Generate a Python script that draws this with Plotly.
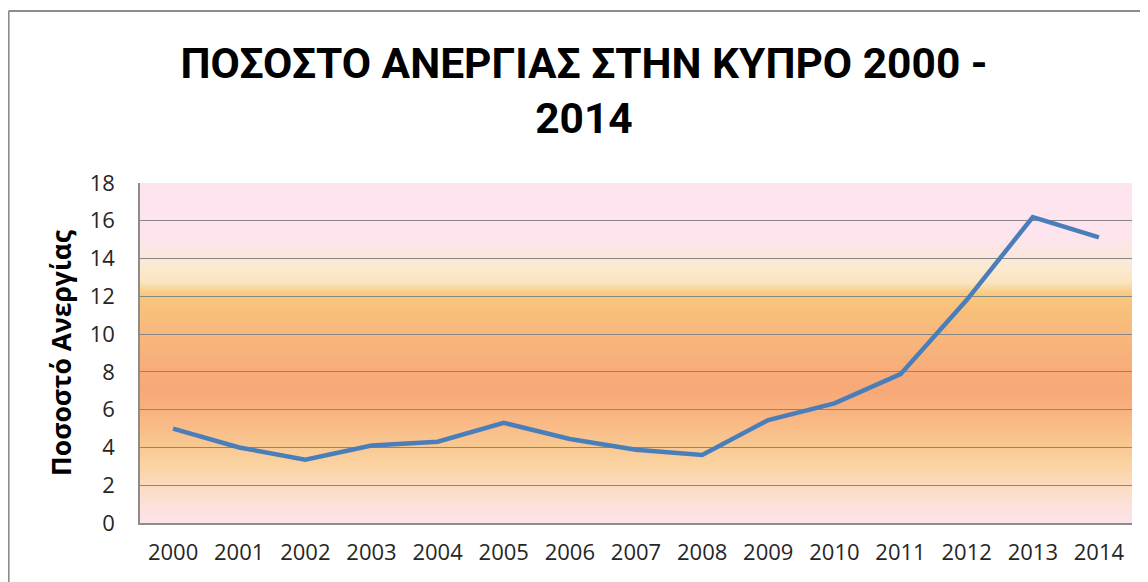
import numpy as np
import plotly.graph_objects as go

years = [str(y) for y in range(2000, 2015)]
unemployment = [5.0, 4.0, 3.35, 4.1, 4.3, 5.3, 4.45, 3.88, 3.6, 5.45, 6.33, 7.88, 11.8, 16.2, 15.12]
y_ticks = list(range(0, 19, 2))
title_text = "ΠΟΣΟΣΤΟ ΑΝΕΡΓΙΑΣ ΣΤΗΝ ΚΥΠΡΟ 2000 -<br>2014"
y_title = "Ποσοστό Ανεργίας"

# page body has an 8px offset; figure coordinates compensate for it
OFF = 8
W, H = 1148, 582
L, T = 140 - OFF, 183 - OFF
R = W - (1132 - OFF)
B = H - (523 - OFF)
pw, ph = W - L - R, H - T - B

# background gradient (style)
stops = [
    (0.0, "#FDE3EA"), (1.0, "#FCE0D8"), (2.0, "#FBDBBF"), (3.0, "#FAD3A3"),
    (4.0, "#F9CA93"), (5.0, "#F9BD88"), (6.0, "#F8B27F"), (7.0, "#F8A878"),
    (8.0, "#F8AC79"), (9.0, "#F8B27B"), (10.0, "#F8B77C"), (11.0, "#F8BE7B"),
    (12.0, "#F8C67A"), (12.3, "#F9D08F"), (12.7, "#FAE3BE"), (13.5, "#FBE9D0"),
    (14.5, "#FCE6E2"), (15.2, "#FDE4EE"), (18.0, "#FDE4EF"),
]
sv = np.array([s[0] for s in stops])
sc = np.array([[int(c[1:3], 16), int(c[3:5], 16), int(c[5:7], 16)] for _, c in stops])

shapes = []
step = 0.1
for lo in np.arange(0, 18, step):
    mid = lo + step / 2
    rgb = [int(round(np.interp(mid, sv, sc[:, k]))) for k in range(3)]
    shapes.append(dict(type="rect", xref="paper", yref="y", x0=0, x1=1,
                       y0=lo, y1=min(lo + step * 1.5, 18), layer="below",
                       line=dict(width=0), fillcolor="rgb(%d,%d,%d)" % tuple(rgb)))

# outer chart border (top and left visible)
bx = (8.5 - OFF - L) / pw
by = (H - B - (11 - OFF)) / ph
shapes.append(dict(type="line", xref="paper", yref="paper", x0=bx, x1=(W + 10 - L) / pw,
                   y0=by, y1=by, line=dict(color="#8C8C8C", width=2.2)))
shapes.append(dict(type="line", xref="paper", yref="paper", x0=bx, x1=bx,
                   y0=by, y1=-B / ph - 0.1, line=dict(color="#8C8C8C", width=2.2)))

fig = go.Figure()
fig.add_trace(go.Scatter(
    x=years, y=unemployment, mode="lines",
    line=dict(color="#4A7EBB", width=4.5),
    showlegend=False, hoverinfo="x+y",
))

fig.update_layout(
    width=W, height=H,
    margin=dict(l=L, r=R, t=T, b=B, autoexpand=False),
    paper_bgcolor="white", plot_bgcolor="white",
    shapes=shapes,
    title=dict(
        text=title_text,
        xref="container", yref="container",
        x=(584 - OFF) / W, xanchor="center",
        y=1 - (78 - OFF) / H, yanchor="top",
        font=dict(family="Roboto, Lato, sans-serif",
                  size=42.5, color="#000000", weight="bold"),
    ),
    font=dict(family="Open Sans, Liberation Sans, sans-serif", color="#262626"),
)

fig.update_xaxes(
    type="category", range=[-0.5, 14.5], showgrid=False, showline=True,
    linecolor="#8C8C8C", linewidth=1.5, automargin=False,
    ticks="", tickfont=dict(size=22, color="#262626"), ticklabelstandoff=9,
)
fig.update_yaxes(
    range=[0, 18], tickvals=y_ticks, showgrid=True, gridcolor="#878787", gridwidth=1.2,
    showline=True, linecolor="#8C8C8C", linewidth=1.5, zeroline=False, automargin=False,
    ticks="", tickfont=dict(size=22, color="#262626"), ticklabelstandoff=19,
    title=dict(text="<b>" + y_title + "</b>", standoff=10,
               font=dict(family="Open Sans, Liberation Sans, sans-serif", size=26.5, color="#000000")),
)

fig.write_html("out.html")
